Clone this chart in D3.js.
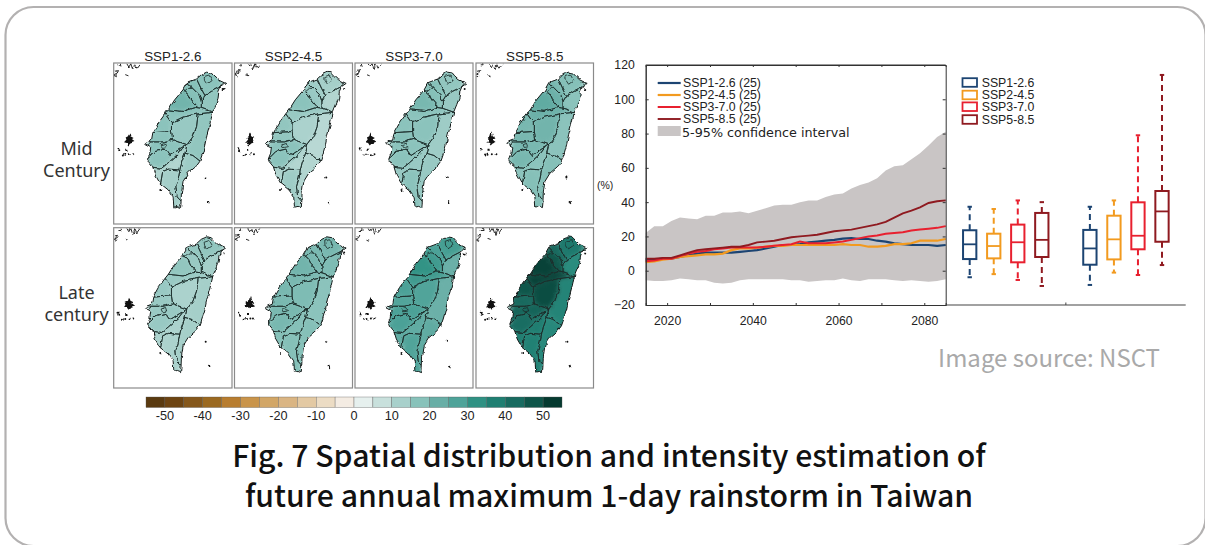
<!DOCTYPE html>
<html>
<head>
<meta charset="utf-8">
<title>Fig. 7</title>
<style>
  html, body { margin: 0; padding: 0; background: #fff; overflow: hidden; }
  svg { display: block; }
  text { font-family: "Liberation Sans", Arial, sans-serif; fill: #222; }
  .cjk { font-family: "Noto Sans CJK TC", "Noto Sans", sans-serif; }
  .axis path, .axis line { stroke: #333; stroke-width: 1; }
  .axis text { font-size: 12.2px; }
  filter { color-interpolation-filters: sRGB; }
</style>
<script src="https://cdnjs.cloudflare.com/ajax/libs/d3/7.8.5/d3.min.js"></script>
</head>
<body>
<svg id="chart" width="1205" height="545"></svg>
<script>
// ---- line chart data (every second year)
var years = d3.range(2015, 2086, 2);
var ssp126 = [6.5,6.5,7,7,8,9,10,10.5,10.5,10.5,10.5,11,11.5,12,13,14,15,15,15.5,16.5,17,17.5,18,18.7,19,18.5,18.5,17.5,17,16,15.5,15,15,15,14.5,15];
var ssp245 = [5,5.5,6.5,7,8,8.5,9,9.5,9.5,10,12,13,13,13.5,14,14.5,14.5,15,15,15,15,15,15,15.5,15,15,14,14,14.5,15.5,15.5,16,17.5,17.5,17.5,18.5];
var ssp370 = [5.5,6,7,7,8.5,10,11,11.5,12.5,13,13.5,13.5,13.5,13.5,14,14.5,15,15.5,17,16,16,16,16.5,17,18,19,20,20.5,21.5,22,22.5,23.5,24,24.5,25,26];
var ssp585 = [7,7,7.5,7.5,9,10.5,12,12.5,13,13.5,14,14,15,16.5,17,17.5,18.5,19.5,20,20.5,21,22,23,23.5,24,25,26,27,28.5,31,33.5,35,37,39.5,40.5,41];
var ciUpper = [22,26,26,29,31,30.5,30,32,32,34,34,34.5,33.5,35,36.5,38,38.5,38.5,40,41,41,43,44.5,45,48,50,51.5,54,58.5,61,61.5,65,68.5,73,78,81];
var ciLower = [-5.5,-6,-6,-5.5,-4.5,-5,-5.5,-5.5,-7,-7.5,-7,-5.5,-5,-5,-5,-5,-5,-5.5,-5.5,-6.5,-6,-5.5,-5.5,-4.5,-5.5,-6,-5,-5,-5,-5.5,-6,-5.5,-6,-6.5,-6,-5];

var sspNames = ["SSP1-2.6","SSP2-4.5","SSP3-7.0","SSP5-8.5"];
var sspColors = ["#1c4472","#f29a1f","#e8202f","#8f1a20"];
var lineWidths = [2.2,2.2,2,1.9];

// ---- box plot data: mid century then late century
var boxSlots = ["a","b","c","d","gap","e","f","g","h"];
var boxSsp   = [0,1,2,3,0,1,2,3];
var boxLow   = [-3.8,-2,-5.4,-8.9,-8.3,-1.1,-2.5,3.3];
var boxQ1    = [6.8,7.2,4.9,8,3.5,6.6,12.5,16.9];
var boxMed   = [15.4,14.4,16.6,18,13,18.3,20.4,34.6];
var boxQ3    = [23.6,21.6,26.9,33.7,23.8,32.1,39.9,46.5];
var boxHigh  = [37.3,36,41,40,37.3,41,79,114.2];

// ---- map panels: % change per county, same order as countyShapes
var mid126  = [17,16,18,18,21,17,17,15,17,17,17,11,13,16,14];
var mid245  = [13,11,14,15,17,15,16,12,16,17,17,11,14,10,11];
var mid370  = [16,15,18,18,20,17,17,17,18,17,17,15,17,14,15];
var mid585  = [18,17,20,22,24,22,20,21,20,20,20,17,18,17,18];
var late126 = [16,13,16,15,16,15,15,12,15,15,15,12,12,13,13];
var late245 = [20,19,20,20,21,20,20,19,20,20,20,18,18,17,18];
var late370 = [29,22,28,30,32,30,28,27,27,28,28,24,27,22,24];
var late585 = [39,34,43,47,51,51,47,49,43,44,42,38,37,36,35];

// lon/lat outlines
var coast = [[121.49,25.28],[121.53,25.30],[121.65,25.28],[121.71,25.21],[121.82,25.11],[122.01,25.02],[121.89,24.94],[121.84,24.82],[121.82,24.65],[121.76,24.49],[121.69,24.32],[121.65,24.15],[121.61,23.99],[121.54,23.74],[121.49,23.49],[121.42,23.24],[121.36,23.07],[121.28,22.96],[121.07,22.78],[120.94,22.57],[120.90,22.28],[120.89,22.03],[120.88,21.92],[120.80,21.95],[120.71,21.93],[120.69,22.19],[120.57,22.36],[120.36,22.53],[120.24,22.74],[120.18,22.94],[120.07,23.07],[120.05,23.13],[120.11,23.28],[120.13,23.44],[119.98,23.52],[120.02,23.56],[120.15,23.61],[120.18,23.78],[120.32,24.03],[120.49,24.26],[120.57,24.36],[120.73,24.61],[120.94,24.86],[121.04,25.04],[121.28,25.13],[121.40,25.24]];
var countyShapes = [
  [[121.28,25.13],[121.39,24.90],[121.49,24.72],[121.65,24.82],[121.89,24.94],[122.2,25.4],[121.2,25.4]],
  [[121.49,24.72],[121.65,24.82],[121.89,24.94],[122.1,24.9],[122.0,24.3],[121.69,24.30],[121.40,24.40],[121.40,24.57]],
  [[121.04,25.04],[121.19,24.89],[121.34,24.74],[121.40,24.57],[121.49,24.72],[121.39,24.90],[121.28,25.13],[121.0,25.2]],
  [[120.94,24.86],[121.07,24.74],[121.13,24.61],[121.26,24.46],[121.26,24.42],[121.40,24.40],[121.40,24.57],[121.34,24.74],[121.19,24.89],[121.04,25.04],[120.85,25.0]],
  [[120.57,24.36],[120.76,24.34],[120.94,24.32],[121.26,24.42],[121.26,24.46],[121.13,24.61],[121.07,24.74],[120.94,24.86],[120.7,24.8],[120.4,24.5]],
  [[120.57,24.36],[120.76,24.34],[120.94,24.32],[121.26,24.42],[121.40,24.40],[121.69,24.30],[121.32,24.26],[120.94,24.18],[120.65,24.04],[120.49,24.26],[120.3,24.4]],
  [[120.49,24.26],[120.65,24.04],[120.65,23.82],[120.18,23.79],[120.0,23.9],[120.3,24.3]],
  [[120.65,24.04],[120.94,24.18],[121.32,24.26],[121.28,23.94],[121.19,23.69],[121.04,23.49],[120.68,23.62],[120.65,23.82]],
  [[120.18,23.79],[120.65,23.82],[120.68,23.62],[120.44,23.56],[120.13,23.56],[119.9,23.6]],
  [[120.13,23.56],[120.44,23.56],[120.68,23.62],[121.04,23.49],[120.86,23.38],[120.61,23.22],[120.49,23.38],[120.24,23.32],[120.09,23.17],[119.9,23.3]],
  [[120.09,23.17],[120.24,23.32],[120.49,23.38],[120.61,23.22],[120.86,23.38],[120.95,23.43],[120.82,23.26],[120.57,23.04],[120.40,22.90],[120.16,22.93],[119.9,23.0]],
  [[120.16,22.93],[120.40,22.90],[120.57,23.04],[120.82,23.26],[120.95,23.43],[121.04,23.49],[120.99,23.28],[120.90,23.03],[120.86,22.86],[120.57,22.88],[120.43,22.82],[120.38,22.53],[120.1,22.6]],
  [[120.38,22.53],[120.43,22.82],[120.57,22.88],[120.86,22.86],[120.82,22.65],[120.76,22.44],[120.79,22.19],[120.90,22.07],[120.9,21.7],[120.4,21.8]],
  [[121.32,24.26],[121.69,24.30],[122.0,24.3],[121.8,23.0],[121.38,23.07],[121.19,23.22],[120.99,23.28],[121.04,23.49],[121.19,23.69],[121.28,23.94]],
  [[120.99,23.28],[121.19,23.22],[121.38,23.07],[121.8,23.0],[121.2,22.0],[120.90,22.07],[120.79,22.19],[120.76,22.44],[120.82,22.65],[120.86,22.86],[120.90,23.03]]
];
var cityLoops = [
  [[121.47,25.19],[121.59,25.23],[121.67,25.09],[121.54,25.00],[121.48,25.09],[121.47,25.19]],
  [[120.39,23.49],[120.50,23.53],[120.53,23.44],[120.42,23.42],[120.39,23.49]],
  [[120.96,24.79],[121.09,24.90],[121.18,24.89]]
];
var islandBlobs = [
  [[119.59,23.80],[119.62,23.70],[119.70,23.66],[119.64,23.62],[119.72,23.56],[119.62,23.52],[119.57,23.47],[119.53,23.53],[119.46,23.55],[119.52,23.62],[119.50,23.67],[119.56,23.70]],
  [[119.49,23.39],[119.54,23.39],[119.55,23.34],[119.49,23.34]],
  [[121.54,22.08],[121.59,22.09],[121.61,22.00],[121.56,22.03]]
];
var islets = [[119.32,23.40],[119.34,23.35],[119.43,23.22],[119.49,23.24],[119.60,23.25],[119.69,23.25],[121.51,22.67],[120.37,22.36],[121.96,24.88]];
var mainland = [
  [[119.24,25.32],[119.32,25.34],[119.29,25.28],[119.21,25.24],[119.28,25.21]],
  [[119.36,25.53],[119.38,25.46],[119.32,25.46]],
  [[119.53,25.51],[119.58,25.43],[119.63,25.51],[119.68,25.36],[119.73,25.51],[119.78,25.40],[119.86,25.51]],
  [[119.49,25.24],[119.57,25.21]]
];
var panelTitles = ["SSP1-2.6","SSP2-4.5","SSP3-7.0","SSP5-8.5"];
var panelRows = [[mid126,mid245,mid370,mid585],[late126,late245,late370,late585]];

// colour bar
var barEdges = d3.range(-55, 55, 5);
var barTicks = [-50,-40,-30,-20,-10,0,10,20,30,40,50];
var barColors = ["#5a3a10","#6d4412","#85571b","#9b6920","#b87d2f","#c9944a","#d2a666","#dab583","#e3c9a3","#ecdcc4","#f4ece3",
                 "#e6f0ee","#c8e0dc","#a8d0cb","#88c2ba","#68aea6","#4ea399","#2f9183","#1f7f72","#186b60","#0e5549","#053a30"];

var svg = d3.select("#chart");
var defs = svg.append("defs");
defs.append("filter").attr("id","smear").attr("x","-10%").attr("y","-10%").attr("width","120%").attr("height","120%")
  .append("feGaussianBlur").attr("stdDeviation",2.2);
defs.append("filter").attr("id","fine")
  .append("feGaussianBlur").attr("stdDeviation",0.3);
// wobble gives the coast and county lines their hand-digitised look
var wobble = defs.append("filter").attr("id","wobble").attr("x","-2%").attr("y","-2%").attr("width","104%").attr("height","104%");
wobble.append("feTurbulence").attr("type","fractalNoise").attr("baseFrequency",0.16).attr("numOctaves",2).attr("seed",4).attr("result","n");
wobble.append("feDisplacementMap").attr("in","SourceGraphic").attr("in2","n").attr("scale",4).attr("xChannelSelector","R").attr("yChannelSelector","G").attr("result","d");
wobble.append("feGaussianBlur").attr("in","d").attr("stdDeviation",0.4);

// card
svg.append("rect").attr("x",5.5).attr("y",7).attr("width",1200).attr("height",539).attr("rx",28)
  .attr("fill","#fff").attr("stroke","#b3b1b1").attr("stroke-width",2.2);

// ---- maps
var panelX = [[113.7,232],[234.5,352.5],[355,473],[476,593.5]];
var rowY = [[63,224],[227.7,388]];
var colorOf = d3.scaleLinear()
  .domain(barColors.map(function(c,i){ return -52.5 + i*5; }))
  .range(barColors)
  .interpolate(d3.interpolateRgb);

panelRows.forEach(function(row,r){
  row.forEach(function(vals,c){
    var lon = d3.scaleLinear().domain([119.2,122.17]).range(panelX[c]);
    var lat = d3.scaleLinear().domain([25.53,21.51]).range(rowY[r]);
    var line = d3.line().x(function(d){return lon(d[0]);}).y(function(d){return lat(d[1]);});
    var id = "coast"+r+c, pid = "panel"+r+c;
    defs.append("clipPath").attr("id",id).append("path").attr("d",line(coast)+"Z");
    defs.append("clipPath").attr("id",pid).append("rect")
      .attr("x",panelX[c][0]).attr("y",rowY[r][0])
      .attr("width",panelX[c][1]-panelX[c][0]).attr("height",rowY[r][1]-rowY[r][0]);

    var outer = svg.append("g");
    var g = outer.append("g").attr("clip-path","url(#"+pid+")").append("g").attr("filter","url(#wobble)");

    // fills blurred together so they look like the model raster
    g.append("g").attr("clip-path","url(#"+id+")")
      .append("g").attr("filter","url(#smear)")
      .selectAll("path").data(countyShapes).enter().append("path")
      .attr("d",function(d){return line(d)+"Z";})
      .attr("fill",function(d,i){return colorOf(vals[i]);});

    var inner = g.append("g").attr("clip-path","url(#"+id+")");
    inner.selectAll("path.county").data(countyShapes).enter().append("path")
      .attr("class","county").attr("d",function(d){return line(d)+"Z";})
      .attr("fill","none").attr("stroke","#1d2f2d").attr("stroke-width",0.85);
    inner.selectAll("path.loop").data(cityLoops).enter().append("path")
      .attr("class","loop").attr("d",line)
      .attr("fill","none").attr("stroke","#1d2f2d").attr("stroke-width",0.85);
    g.append("path").attr("d",line(coast)+"Z").attr("fill","none").attr("stroke","#141a19").attr("stroke-width",1);
    g.selectAll("path.blob").data(islandBlobs).enter().append("path")
      .attr("class","blob").attr("d",function(d){return line(d)+"Z";}).attr("fill","#111");
    g.selectAll("circle").data(islets).enter().append("circle")
      .attr("cx",function(d){return lon(d[0]);}).attr("cy",function(d){return lat(d[1]);})
      .attr("r",1).attr("fill","#111");
    g.selectAll("path.land").data(mainland).enter().append("path")
      .attr("class","land").attr("d",line).attr("fill","none").attr("stroke","#111").attr("stroke-width",0.9);

    outer.append("rect").attr("x",panelX[c][0]).attr("y",rowY[r][0])
      .attr("width",panelX[c][1]-panelX[c][0]).attr("height",rowY[r][1]-rowY[r][0])
      .attr("fill","none").attr("stroke","#8a8a8a").attr("stroke-width",1.2);

    if (r===0) {
      svg.append("text").attr("x",(panelX[c][0]+panelX[c][1])/2).attr("y",61)
        .attr("text-anchor","middle").style("font-size","13.4px").text(panelTitles[c]);
    }
  });
});

[["Mid",148],["Century",170],["Late",292],["century",314]].forEach(function(t){
  svg.append("text").attr("x",76.5).attr("y",t[1]+6.5)
    .attr("text-anchor","middle").style("font-size","18px").style("font-family","'Noto Sans',sans-serif").style("fill","#333").text(t[0]);
});

// ---- colour bar
var barX = d3.scaleLinear().domain([-55,55]).range([146,562]);
svg.append("g").selectAll("rect").data(barEdges).enter().append("rect")
  .attr("x",function(d){return barX(d);}).attr("y",397)
  .attr("width",barX(5)-barX(0)).attr("height",10.5)
  .attr("fill",function(d,i){return barColors[i];})
  .attr("stroke","#555").attr("stroke-width",0.35);
svg.append("g").selectAll("text").data(barTicks).enter().append("text")
  .attr("x",function(d){return barX(d);}).attr("y",420)
  .attr("text-anchor","middle").style("font-size","12.7px").text(function(d){return d;});

// ---- line chart
var x = d3.scaleLinear().domain([2015,2085]).range([645.7,945.7]);
var y = d3.scaleLinear().domain([-20,120]).range([305,65]);

var band = d3.area().x(function(d){return x(d);})
  .y0(function(d,i){return y(ciLower[i]);})
  .y1(function(d,i){return y(ciUpper[i]);});
svg.append("path").datum(years).attr("d",band).attr("fill","#c9c5c5");

var seriesLine = function(vals){
  return d3.line().x(function(d){return x(d);}).y(function(d,i){return y(vals[i]);})(years);
};
var chartSeries = [ssp126,ssp245,ssp370,ssp585];
chartSeries.forEach(function(vals,i){
  svg.append("path").attr("d",seriesLine(vals)).attr("fill","none")
    .attr("stroke",sspColors[i]).attr("stroke-width",lineWidths[i]).attr("filter","url(#fine)");
});

var yAxis = d3.axisLeft(y).tickValues(d3.range(-20,121,20)).tickSize(0).tickPadding(11);
var xAxis = d3.axisBottom(x).tickValues([2020,2040,2060,2080]).tickFormat(d3.format("d")).tickSize(0).tickPadding(11);
svg.append("g").attr("class","axis").attr("transform","translate(645.7,0)").call(yAxis);
svg.append("g").attr("class","axis").attr("transform","translate(0,305)").call(xAxis);
svg.append("g").attr("class","axis").attr("transform","translate(945.7,0)")
  .call(d3.axisLeft(y).tickValues(d3.range(-20,121,20)).tickSize(3).tickFormat(""));
svg.append("g").attr("class","axis").attr("transform","translate(645.7,0)")
  .call(d3.axisRight(y).tickValues(d3.range(-20,121,20)).tickSize(3).tickFormat(""));
svg.append("g").attr("class","axis").attr("transform","translate(0,65)")
  .call(d3.axisBottom(x).tickValues(d3.range(2020,2081,10)).tickSize(2).tickFormat(""));
svg.append("g").attr("class","axis").attr("transform","translate(0,305)")
  .call(d3.axisTop(x).tickValues(d3.range(2020,2081,10)).tickSize(2).tickFormat(""));
svg.append("line").attr("x1",645.7).attr("x2",945.7).attr("y1",65).attr("y2",65).attr("stroke","#333");
svg.append("text").attr("x",597).attr("y",189).style("font-size","10.5px").text("(%)");

var legendY = [83,95,107,119];
sspNames.forEach(function(n,i){
  svg.append("line").attr("x1",657.7).attr("x2",680.7).attr("y1",legendY[i]).attr("y2",legendY[i])
    .attr("stroke",sspColors[i]).attr("stroke-width",lineWidths[i]);
  svg.append("text").attr("x",683).attr("y",legendY[i]+4.3).style("font-size","12.3px").text(n+" (25)");
});
svg.append("rect").attr("x",657.7).attr("y",126).attr("width",23).attr("height",10).attr("fill","#c9c5c5");
svg.append("text").attr("x",682).attr("y",137).style("font-size","12.75px")
  .style("font-family","'DejaVu Sans',sans-serif").text("5-95% confidence interval");

// ---- box plot
var bx = d3.scalePoint().domain(boxSlots).range([969.7,1162]);
var slots = boxSlots.filter(function(s){return s!=="gap";});
var boxW = 13.3;
svg.append("line").attr("x1",945.7).attr("x2",1185.7).attr("y1",305).attr("y2",305).attr("stroke","#444").attr("stroke-width",1.2);
svg.append("line").attr("x1",bx("gap")).attr("x2",bx("gap")).attr("y1",305).attr("y2",302.5).attr("stroke","#444");

slots.forEach(function(s,i){
  var col = sspColors[boxSsp[i]], cx = bx(s);
  var g = svg.append("g").attr("filter","url(#fine)");
  g.append("line").attr("x1",cx).attr("x2",cx).attr("y1",y(boxQ3[i])).attr("y2",y(boxHigh[i]))
    .attr("stroke",col).attr("stroke-width",2).attr("stroke-dasharray","6,4");
  g.append("line").attr("x1",cx).attr("x2",cx).attr("y1",y(boxQ1[i])).attr("y2",y(boxLow[i]))
    .attr("stroke",col).attr("stroke-width",2).attr("stroke-dasharray","6,4");
  [boxHigh[i],boxLow[i]].forEach(function(v){
    g.append("line").attr("x1",cx-2.2).attr("x2",cx+2.2).attr("y1",y(v)).attr("y2",y(v))
      .attr("stroke",col).attr("stroke-width",2);
  });
  g.append("rect").attr("x",cx-boxW/2).attr("y",y(boxQ3[i]))
    .attr("width",boxW).attr("height",y(boxQ1[i])-y(boxQ3[i]))
    .attr("fill","#fff").attr("stroke",col).attr("stroke-width",2);
  g.append("line").attr("x1",cx-boxW/2).attr("x2",cx+boxW/2).attr("y1",y(boxMed[i])).attr("y2",y(boxMed[i]))
    .attr("stroke",col).attr("stroke-width",1.8);
});

var boxLegendY = [82.5,95,106.7,119.5];
sspNames.forEach(function(n,i){
  svg.append("rect").attr("x",962.5).attr("y",boxLegendY[i]-4.3).attr("width",14.5).attr("height",8.6)
    .attr("fill","none").attr("stroke",sspColors[i]).attr("stroke-width",1.8).attr("filter","url(#fine)");
  svg.append("text").attr("x",981.7).attr("y",boxLegendY[i]+4.3).style("font-size","12.3px").text(n);
});

// ---- captions
svg.append("text").attr("class","cjk").attr("x",1160).attr("y",367).attr("text-anchor","end")
  .style("font-size","24px").style("fill","#a9a9a9").text("Image source: NSCT");
[["Fig. 7 Spatial distribution and intensity estimation of",467],["future annual maximum 1-day rainstorm in Taiwan",507]].forEach(function(t){
  svg.append("text").attr("class","cjk").attr("x",609).attr("y",t[1]).attr("text-anchor","middle")
    .style("font-size","30.2px").style("font-weight",500).style("fill","#111").text(t[0]);
});
</script>
</body>
</html>
